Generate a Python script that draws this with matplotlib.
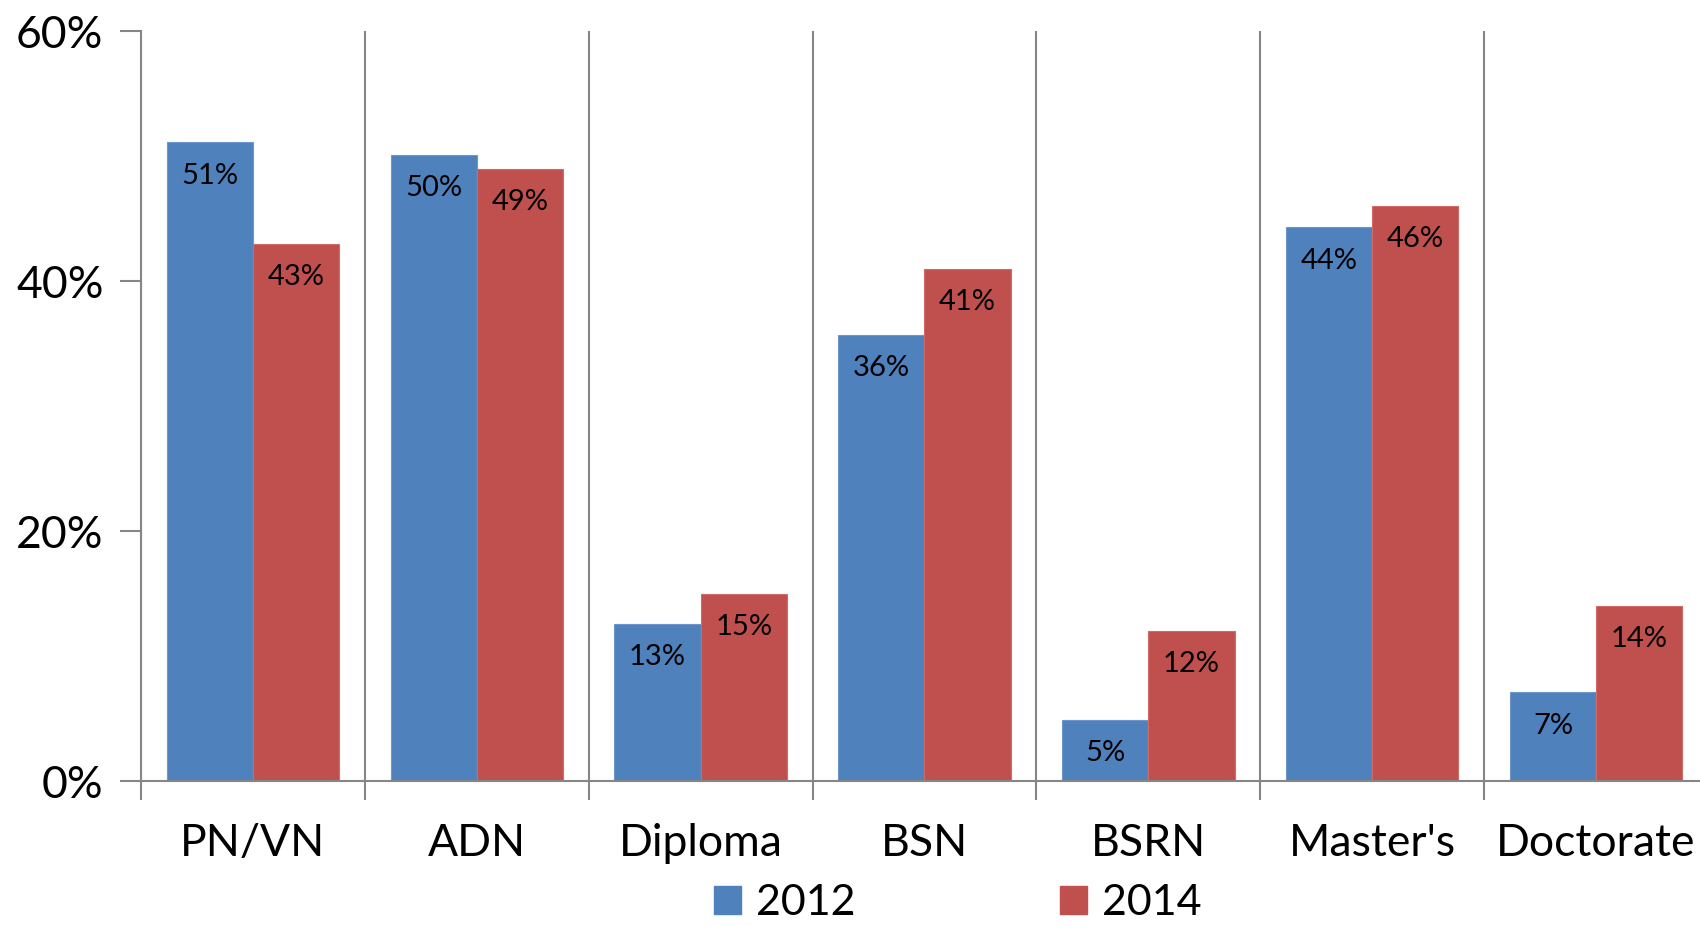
import matplotlib.pyplot as plt
from matplotlib.patches import Patch
from matplotlib.ticker import FuncFormatter

plt.rcParams['font.family'] = ['Lato', 'DejaVu Sans']

categories = ['PN/VN', 'ADN', 'Diploma', 'BSN', 'BSRN', "Master's", 'Doctorate']
vals_2012 = [51.1, 50.1, 12.6, 35.7, 4.9, 44.3, 7.1]
vals_2014 = [43.0, 49.0, 15.0, 41.0, 12.0, 46.0, 14.0]
labels_2012 = ['51%', '50%', '13%', '36%', '5%', '44%', '7%']
labels_2014 = ['43%', '49%', '15%', '41%', '12%', '46%', '14%']

blue = '#4F81BD'
red = '#C0504D'
grey = '#868686'

fig = plt.figure(figsize=(17, 9.27), dpi=100)
ax = fig.add_axes([141 / 1700, 1 - 781 / 927, 1567 / 1700, 750 / 927])

x = list(range(len(categories)))
w = 0.385
b1 = ax.bar([i - w / 2 for i in x], vals_2012, width=w, color=blue, edgecolor='#6d97cc', linewidth=0.8)
b2 = ax.bar([i + w / 2 for i in x], vals_2014, width=w, color=red, edgecolor='#cf6b68', linewidth=0.8)

# data labels just inside the top of each bar
for bars, labs in ((b1, labels_2012), (b2, labels_2014)):
    for rect, lab in zip(bars, labs):
        ax.annotate(lab, (rect.get_x() + rect.get_width() / 2, rect.get_height()),
                    xytext=(0, -24), textcoords='offset points',
                    ha='center', va='center', fontsize=21, color='black')

ax.set_xlim(-0.5, len(categories) - 0.5)
ax.set_ylim(0, 60)
ax.set_yticks([0, 20, 40, 60])
ax.yaxis.set_major_formatter(FuncFormatter(lambda v, p: f'{int(v)}%'))

# category boundaries carry ticks + gridlines, centres carry the labels
ax.set_xticks([i - 0.5 for i in range(len(categories) + 1)])
ax.set_xticklabels([])
ax.set_xticks(x, minor=True)
ax.set_xticklabels(categories, minor=True)
ax.tick_params(axis='x', which='major', length=14, width=1.5, color=grey, direction='out')
ax.tick_params(axis='x', which='minor', length=0, pad=30, labelsize=32)
ax.tick_params(axis='y', length=15, width=1.5, color=grey, direction='out', pad=12, labelsize=32)
ax.xaxis.grid(True, which='major', color=grey, linewidth=1.5)
ax.set_axisbelow(True)

for s in ('top', 'right'):
    ax.spines[s].set_visible(False)
for s in ('left', 'bottom'):
    ax.spines[s].set_color(grey)
    ax.spines[s].set_linewidth(1.5)

handles = [Patch(color=blue, label='2012'), Patch(color=red, label='2014')]
fig.legend(handles=handles, loc='center', bbox_to_anchor=(958 / 1700, 1 - 903 / 927),
           ncol=2, frameon=False, fontsize=31, handlelength=0.62, handleheight=0.62,
           handletextpad=0.35, columnspacing=4.75, borderpad=0)

fig.savefig('out.png', dpi=100)
